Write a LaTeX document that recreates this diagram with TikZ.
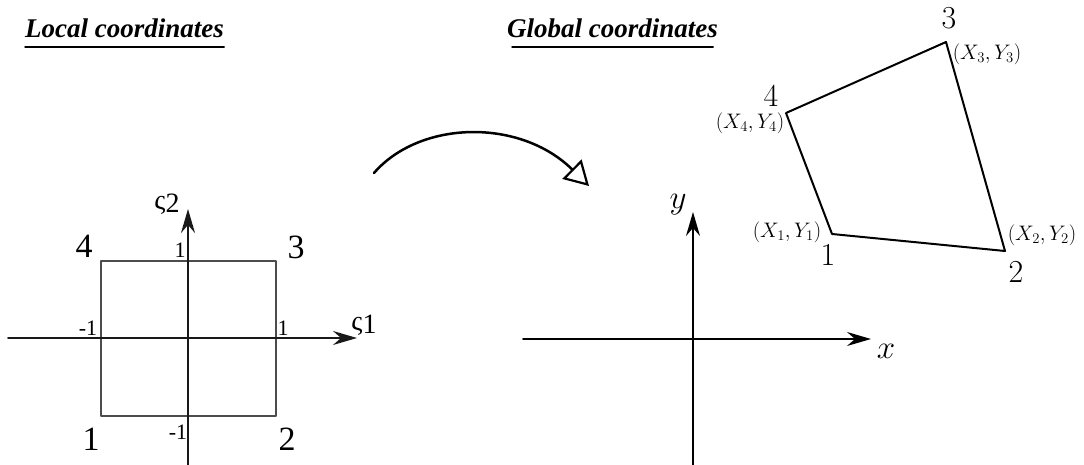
\documentclass[tikz,border=0pt]{standalone}
\usepackage{fix-cm}
\usepackage{fontspec}
\setmainfont{Liberation Serif}
\usetikzlibrary{arrows.meta}
\begin{document}
\begin{tikzpicture}[yscale=-1, x=1pt, y=1pt, line join=round, line cap=round]
% Colour definitions
\definecolor{localline}{rgb}{0.1,0.1,0.1}
\definecolor{squareline}{rgb}{0.3,0.3,0.3}
\definecolor{globalline}{rgb}{0,0,0}
% End of colour definitions
\tikzset{
  axis/.style={line width=1.6pt, -{Stealth[length=24pt, width=14pt, inset=8pt]}},
  heading/.style={font=\fontsize{27}{27}\selectfont\bfseries\itshape, inner sep=0pt, anchor=base west},
  localnum/.style={font=\fontsize{34}{34}\selectfont, inner sep=0pt},
  ticknum/.style={font=\fontsize{22}{22}\selectfont, inner sep=0pt},
  sigmalabel/.style={font=\fontsize{28}{28}\selectfont, inner sep=0pt},
  globalnum/.style={font=\fontsize{32}{32}\selectfont, inner sep=0pt},
  xylabel/.style={font=\fontsize{21}{21}\selectfont, inner sep=0pt},
}
\useasboundingbox (0,0) rectangle (1084,465);
% Headings
\node[heading] (ltitle) at (25,38) {Local coordinates};
\node[heading] (gtitle) at (507,38) {Global coordinates};
\draw[line width=1.5pt] ([yshift=9]ltitle.base west) -- ([yshift=9]ltitle.base east);
\draw[line width=1.5pt] ([xshift=5,yshift=9]gtitle.base west) -- ([xshift=-5,yshift=9]gtitle.base east);
% Local axes and square
\coordinate (lxa) at (8,338);
\coordinate (lxb) at (357,338);
\coordinate (lya) at (188,465);
\coordinate (lyb) at (188,209);
\coordinate (l1) at (101,416);
\coordinate (l2) at (276,416);
\coordinate (l3) at (276,261);
\coordinate (l4) at (101,261);
\draw[color=squareline, line width=1.2pt] (l1) -- (l2) -- (l3) -- (l4) -- cycle;
\draw[color=localline, axis] (lxa) -- (lxb);
\draw[color=localline, axis] (lya) -- (lyb);
\node[localnum] (n1) at (91,439) {1};
\node[localnum] (n2) at (287,439) {2};
\node[localnum] (n3) at (296,247) {3};
\node[localnum] (n4) at (84,246) {4};
\node[ticknum] (tt) at (180,250) {1};
\node[ticknum] (tr) at (283,328) {1};
\node[ticknum] (tl) at (88,328) {-1};
\node[ticknum] (tb) at (178,432) {-1};
\node[sigmalabel] (s2) at (167,204) {ς\raisebox{-3pt}{2}};
\node[sigmalabel] (s1) at (364,325) {ς\raisebox{-3pt}{1}};
% Mapping arrow
\coordinate (ma) at (374,173);
\coordinate (mb) at (589,186);
\draw[line width=2.5pt, -{Triangle[open, length=24pt, width=27pt, line width=2.2pt]}] (ma) .. controls (420,120) and (520,118) .. (mb);
% Global axes
\coordinate (gxa) at (523,339);
\coordinate (gxb) at (871,339);
\coordinate (gya) at (693,465);
\coordinate (gyb) at (693,212);
\draw[color=globalline, axis] (gxa) -- (gxb);
\draw[color=globalline, axis] (gya) -- (gyb);
\node[font=\fontsize{33}{33}\selectfont, inner sep=0pt] (xl) at (886,351) {$x$};
\node[font=\fontsize{33}{33}\selectfont, inner sep=0pt] (yl) at (678,205) {$y$};
% Element in global coordinates
\coordinate (q1) at (832,234);
\coordinate (q2) at (1005,251);
\coordinate (q3) at (946,42);
\coordinate (q4) at (786,113);
\draw[color=globalline, line width=2pt] (q1) -- (q2) -- (q3) -- (q4) -- cycle;
\node[globalnum] (g1) at (828,255) {$1$};
\node[globalnum] (g2) at (1016,272) {$2$};
\node[globalnum] (g3) at (949,18) {$3$};
\node[globalnum] (g4) at (771,96) {$4$};
\node[xylabel] (c1) at (787,232) {$(X_1,Y_1)$};
\node[xylabel] (c2) at (1042,235) {$(X_2,Y_2)$};
\node[xylabel] (c3) at (987,54) {$(X_3,Y_3)$};
\node[xylabel] (c4) at (750,123) {$(X_4,Y_4)$};
\end{tikzpicture}
\end{document}
